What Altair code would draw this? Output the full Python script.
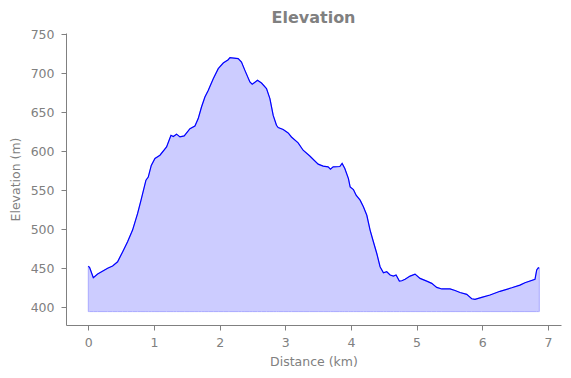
import altair as alt
import pandas as pd

# distance along the route (km)
distance_km = [
    0.000, 0.020, 0.076, 0.142, 0.294, 0.370, 0.446, 0.522, 0.598, 0.674,
    0.750, 0.802, 0.878, 0.913, 0.959, 1.015, 1.091, 1.192, 1.259, 1.294,
    1.344, 1.396, 1.461, 1.548, 1.624, 1.674, 1.724, 1.776, 1.826, 1.903,
    1.979, 2.055, 2.131, 2.157, 2.283, 2.333, 2.385, 2.461, 2.496, 2.577,
    2.638, 2.714, 2.766, 2.816, 2.866, 2.892, 2.968, 3.044, 3.094, 3.196,
    3.272, 3.374, 3.501, 3.577, 3.653, 3.688, 3.729, 3.831, 3.866, 3.907,
    3.962, 3.988, 4.038, 4.079, 4.140, 4.190, 4.242, 4.292, 4.342, 4.394,
    4.444, 4.495, 4.546, 4.597, 4.647, 4.688, 4.738, 4.775, 4.825, 4.901,
    4.977, 5.053, 5.155, 5.231, 5.307, 5.384, 5.510, 5.586, 5.662, 5.764,
    5.840, 5.890, 5.992, 6.119, 6.271, 6.449, 6.575, 6.651, 6.804, 6.830,
    6.854, 6.869,
]

# elevation (m)
elevation_m = [
    452.8, 451.0, 438.0, 442.6, 450.0, 453.0, 458.4, 471.0, 484.0, 499.0,
    520.0, 537.0, 563.0, 567.0, 582.0, 590.8, 595.0, 605.6, 620.6, 619.0,
    622.0, 618.5, 619.7, 629.0, 632.5, 642.0, 656.8, 669.6, 678.0, 693.0,
    706.0, 713.2, 717.5, 720.0, 718.8, 714.5, 703.8, 688.9, 686.0, 691.0,
    687.6, 680.4, 667.6, 646.0, 633.4, 630.5, 628.0, 623.6, 618.4, 610.8,
    601.4, 594.0, 583.5, 581.0, 580.0, 577.0, 580.0, 580.5, 584.4, 578.0,
    565.0, 554.4, 551.0, 543.8, 537.4, 528.8, 518.0, 499.0, 484.0, 469.0,
    452.0, 444.3, 445.6, 441.4, 440.0, 441.4, 433.7, 434.0, 435.9, 440.0,
    442.6, 437.1, 433.5, 430.7, 425.5, 423.5, 423.5, 421.5, 419.0, 416.6,
    411.0, 410.2, 412.8, 415.7, 420.5, 425.0, 428.5, 431.5, 435.9, 447.8,
    450.7, 450.0,
]

baseline_m = 394.5
x_ticks = [0, 1, 2, 3, 4, 5, 6, 7]
y_ticks = [400, 450, 500, 550, 600, 650, 700, 750]

df = pd.DataFrame({"dist": distance_km, "elev": elevation_m})

GRAY = "#808080"
FONT = "DejaVu Sans"

x_enc = alt.X(
    "dist:Q",
    scale=alt.Scale(domain=[-0.34, 7.2], nice=False, zero=False),
    axis=alt.Axis(values=x_ticks, title="Distance (km)", format="d"),
)
y_enc = alt.Y(
    "elev:Q",
    scale=alt.Scale(domain=[377.3, 751.7], nice=False, zero=False),
    axis=alt.Axis(values=y_ticks, title="Elevation (m)", format="d"),
)

area = alt.Chart(df).mark_area(
    color="#ccccff", opacity=1, stroke="#aaaaff", strokeWidth=1
).encode(x=x_enc, y=y_enc, y2=alt.datum(baseline_m))

line = alt.Chart(df).mark_line(color="#0000ff", strokeWidth=1.2).encode(
    x=x_enc, y=y_enc
)

chart = (
    alt.layer(area, line)
    .properties(
        width=495,
        height=292,
        padding={"left": 66, "top": 33, "right": 10, "bottom": 53},
        autosize=alt.AutoSizeParams(type="none"),
        title=alt.TitleParams(
            "Elevation",
            fontSize=16,
            fontWeight="bold",
            color=GRAY,
            font=FONT,
            anchor="middle",
            offset=2,
        ),
    )
    .configure_view(stroke=None)
    .configure_axis(
        grid=False,
        domainColor=GRAY,
        tickColor=GRAY,
        tickSize=5,
        labelColor=GRAY,
        titleColor=GRAY,
        labelFont=FONT,
        titleFont=FONT,
        labelFontSize=12.5,
        titleFontSize=12.5,
        titleFontWeight="normal",
        labelPadding=6,
    )
    .configure_axisY(titlePadding=8, labelPadding=7)
    .configure_axisX(titlePadding=7)
)

chart.save("out.html", embed_options={"renderer": "svg", "actions": False})
